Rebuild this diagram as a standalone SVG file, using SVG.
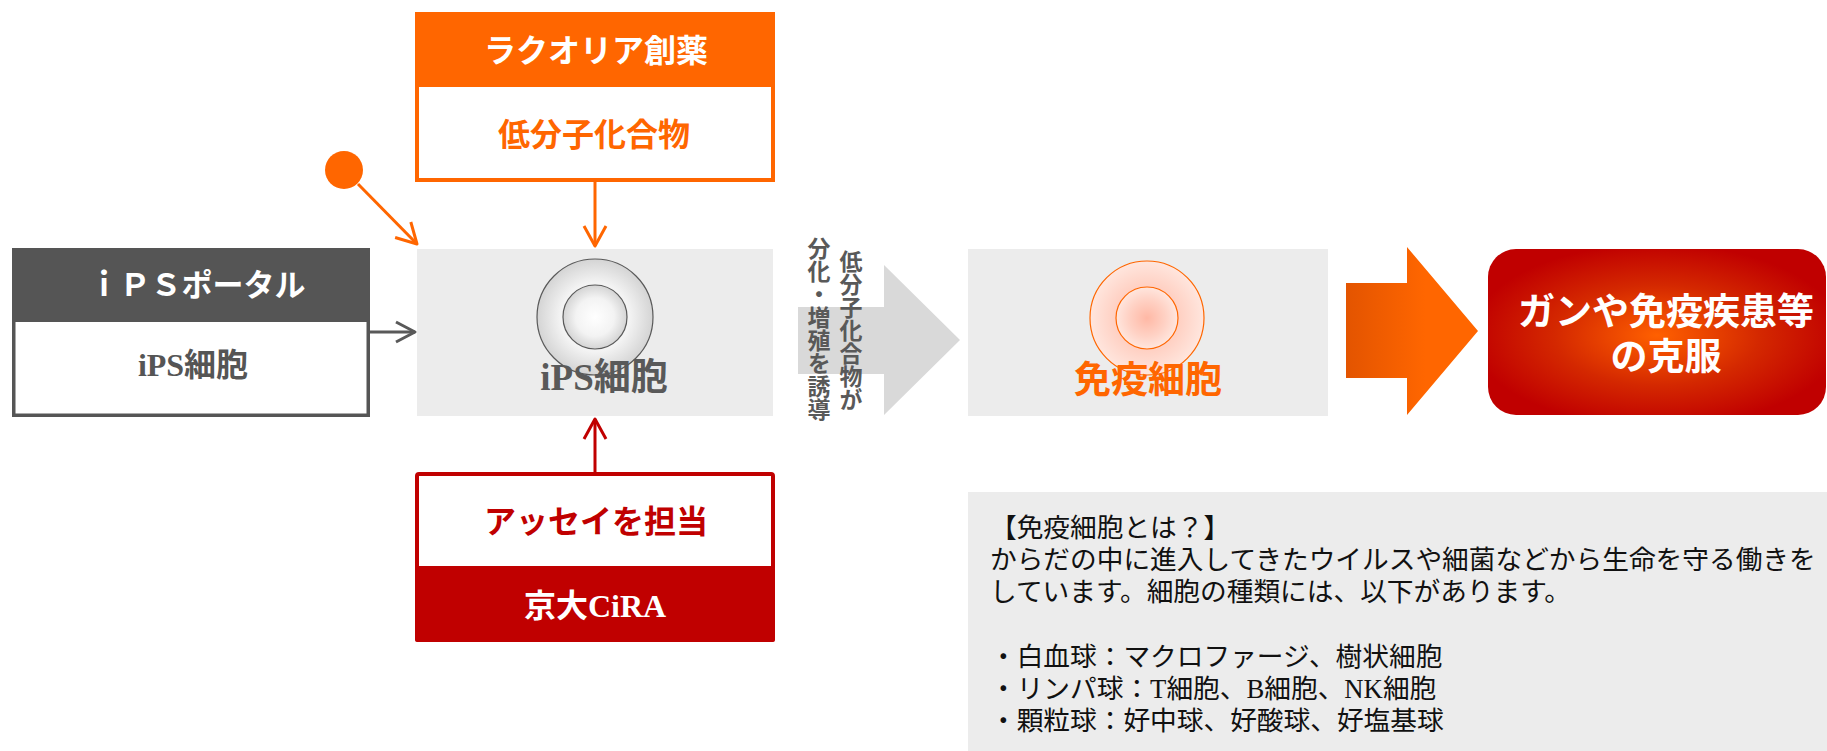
<svg xmlns="http://www.w3.org/2000/svg" width="1827" height="751" viewBox="0 0 1827 751">
  <style>
    text { font-family: "Liberation Serif", "Noto Sans CJK JP", serif; }
    .b { font-weight: 700; }
    .mid { text-anchor: middle; }
    .panel { fill: #ececec; }
    .info { font-size: 26.7px; fill: #111111; }
    .vtext { font-family: "Noto Sans CJK JP", sans-serif; font-size: 23px; font-weight: 700; fill: #595959; writing-mode: vertical-rl; }
    .conn { fill: none; stroke-width: 3; }
  </style>
  <defs>
    <marker id="arrGray" markerUnits="userSpaceOnUse" markerWidth="30" markerHeight="30" viewBox="-26 -15 30 30" refX="0" refY="0" orient="auto">
      <path d="M-19,-10 L0,0 L-19,10" fill="none" stroke="#595959" stroke-width="3" stroke-linejoin="round"/>
    </marker>
    <marker id="arrOrange" markerUnits="userSpaceOnUse" markerWidth="30" markerHeight="30" viewBox="-26 -15 30 30" refX="0" refY="0" orient="auto">
      <path d="M-20,-11 L0,0 L-20,11" fill="none" stroke="#ff6600" stroke-width="3" stroke-linejoin="round"/>
    </marker>
    <marker id="arrRed" markerUnits="userSpaceOnUse" markerWidth="30" markerHeight="30" viewBox="-26 -15 30 30" refX="0" refY="0" orient="auto">
      <path d="M-20,-11 L0,0 L-20,11" fill="none" stroke="#c00000" stroke-width="3" stroke-linejoin="round"/>
    </marker>
    <radialGradient id="cellGray" cx="50%" cy="50%" r="50%">
      <stop offset="0" stop-color="#ffffff"/>
      <stop offset="0.6" stop-color="#f3f3f3"/>
      <stop offset="1" stop-color="#d4d4d4"/>
    </radialGradient>
    <radialGradient id="cellPink" cx="50%" cy="50%" r="50%">
      <stop offset="0" stop-color="#ffb8a5"/>
      <stop offset="0.6" stop-color="#ffd2c5"/>
      <stop offset="1" stop-color="#ffe6de"/>
    </radialGradient>
    <linearGradient id="bigArrow" x1="0" y1="0" x2="1" y2="0">
      <stop offset="0" stop-color="#e35400"/>
      <stop offset="0.6" stop-color="#ff6600"/>
      <stop offset="1" stop-color="#ff6600"/>
    </linearGradient>
    <radialGradient id="goalFill" cx="50%" cy="52%" r="55%">
      <stop offset="0" stop-color="#ff6000"/>
      <stop offset="0.55" stop-color="#d42800"/>
      <stop offset="1" stop-color="#c00000"/>
    </radialGradient>
  </defs>

  <!-- connectors -->
  <g id="connectors">
    <line class="conn" x1="370" y1="332" x2="415" y2="332" stroke="#595959" marker-end="url(#arrGray)"/>
    <line class="conn" x1="358" y1="184" x2="417" y2="244" stroke="#ff6600" marker-end="url(#arrOrange)"/>
    <circle cx="344" cy="170" r="19" fill="#ff6600"/>
    <line class="conn" x1="595" y1="182" x2="595" y2="246" stroke="#ff6600" marker-end="url(#arrOrange)"/>
    <line class="conn" x1="595" y1="472" x2="595" y2="419" stroke="#c00000" marker-end="url(#arrRed)"/>
  </g>

  <!-- iPS portal -->
  <g id="ips-portal">
    <rect x="13.75" y="249.75" width="354.5" height="165.5" fill="#ffffff" stroke="#555555" stroke-width="3.5"/>
    <rect x="12" y="248" width="358" height="74" fill="#555555"/>
    <text class="b mid" x="197" y="296" font-size="31" fill="#ffffff">ｉＰＳポータル</text>
    <text class="b mid" x="193" y="376" font-size="32" fill="#555555">iPS細胞</text>
  </g>

  <!-- RaQualia -->
  <g id="raqualia">
    <rect x="417" y="14" width="356" height="166" fill="#ffffff" stroke="#ff6600" stroke-width="4"/>
    <rect x="415" y="12" width="360" height="75" fill="#ff6600"/>
    <text class="b mid" x="596" y="62" font-size="32" fill="#ffffff">ラクオリア創薬</text>
    <text class="b mid" x="594" y="146" font-size="32" fill="#ff6600">低分子化合物</text>
  </g>

  <!-- Kyoto University CiRA -->
  <g id="cira">
    <rect x="417" y="474" width="356" height="166" rx="2" fill="#ffffff" stroke="#c00000" stroke-width="4"/>
    <path d="M415,566 H775 V640 a2,2 0 0 1 -2,2 H417 a2,2 0 0 1 -2,-2 Z" fill="#c00000"/>
    <text class="b mid" x="596" y="533" font-size="32" fill="#c00000">アッセイを担当</text>
    <text class="b mid" x="595" y="617" font-size="32" fill="#ffffff">京大CiRA</text>
  </g>

  <!-- iPS cell -->
  <g id="ips-cell">
    <rect class="panel" x="417" y="249" width="356" height="167"/>
    <circle cx="595" cy="317" r="58" fill="url(#cellGray)" stroke="#595959" stroke-width="1.2"/>
    <circle cx="595" cy="317" r="32" fill="url(#cellGray)" stroke="#595959" stroke-width="1.2"/>
    <text class="b mid" x="604" y="390" font-size="37" fill="#595959">iPS細胞</text>
  </g>

  <!-- differentiation arrow -->
  <g id="induce-arrow">
    <polygon points="798,307 884,307 884,265 960,340 884,415 884,374 798,374" fill="#d9d9d9"/>
    <text class="vtext" x="851" y="250">低分子化合物が</text>
    <text class="vtext" x="819" y="237">分化・増殖を誘導</text>
  </g>

  <!-- immune cell -->
  <g id="immune-cell">
    <rect class="panel" x="968" y="249" width="360" height="167"/>
    <circle cx="1147" cy="318" r="57" fill="url(#cellPink)" stroke="#ff6600" stroke-width="1.2"/>
    <circle cx="1147" cy="318" r="31" fill="url(#cellPink)" stroke="#ff6600" stroke-width="1.2"/>
    <text class="b mid" x="1148" y="393" font-size="37" fill="#ff6600">免疫細胞</text>
  </g>

  <!-- result arrow -->
  <g id="result-arrow">
    <polygon points="1346,283 1407,283 1407,247 1478,331 1407,415 1407,378 1346,378" fill="url(#bigArrow)"/>
  </g>

  <!-- goal -->
  <g id="goal">
    <rect x="1488" y="249" width="338" height="166" rx="28" fill="url(#goalFill)"/>
    <text class="b mid" x="1666" y="325" font-size="37" fill="#ffffff">ガンや免疫疾患等</text>
    <text class="b mid" x="1666" y="370" font-size="37" fill="#ffffff">の克服</text>
  </g>

  <!-- explanation -->
  <g id="immune-info">
    <rect class="panel" x="968" y="492" width="859" height="259"/>
    <text class="info" x="990" y="537">【免疫細胞とは？】</text>
    <text class="info" x="990" y="569">からだの中に進入してきたウイルスや細菌などから生命を守る働きを</text>
    <text class="info" x="990" y="601">しています。細胞の種類には、以下があります。</text>
    <text class="info" x="990" y="666">・白血球：マクロファージ、樹状細胞</text>
    <text class="info" x="990" y="698">・リンパ球：T細胞、B細胞、NK細胞</text>
    <text class="info" x="990" y="730">・顆粒球：好中球、好酸球、好塩基球</text>
  </g>
</svg>
